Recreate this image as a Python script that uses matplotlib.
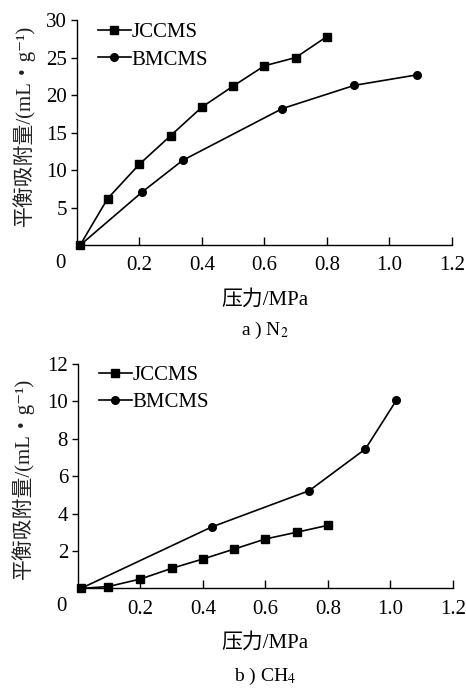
import numpy as np
import matplotlib
matplotlib.use('Agg')
import matplotlib.pyplot as plt

plt.rcParams['font.family'] = ['Liberation Serif', 'Noto Sans CJK SC', 'DejaVu Sans']
plt.rcParams['mathtext.fontset'] = 'stix'

# N2 adsorption
n2_jc_p = [0.01, 0.098, 0.2, 0.3, 0.4, 0.5, 0.6, 0.7, 0.8]
n2_jc_q = [0.0, 6.2, 10.8, 14.6, 18.4, 21.2, 23.9, 25.0, 27.8]
n2_bm_p = [0.01, 0.209, 0.338, 0.657, 0.888, 1.089]
n2_bm_q = [0.0, 7.1, 11.3, 18.2, 21.3, 22.7]

# CH4 adsorption
ch4_jc_p = [0.01, 0.098, 0.2, 0.3, 0.4, 0.5, 0.6, 0.7, 0.8]
ch4_jc_q = [0.0, 0.1, 0.5, 1.07, 1.57, 2.1, 2.64, 3.0, 3.37]
ch4_bm_p = [0.01, 0.428, 0.74, 0.92, 1.019]
ch4_bm_q = [0.0, 3.28, 5.22, 7.45, 10.05]

x_ticks = [0.2, 0.4, 0.6, 0.8, 1.0, 1.2]
x_ticklabels = ['0.2', '0.4', '0.6', '0.8', '1.0', '1.2']
n2_yticks = [5, 10, 15, 20, 25, 30]
ch4_yticks = [2, 4, 6, 8, 10, 12]

ylabel = '平衡吸附量/(mL・g⁻¹)'
fs = 15

fig = plt.figure(figsize=(4.66, 6.89), dpi=100)


def panel(rect, jc_p, jc_q, bm_p, bm_q, ymax, yticks, caption, ylab_xy, xlab_y, cap_y, leg_y):
    ax = fig.add_axes(rect)
    ax.plot(jc_p, jc_q, '-s', color='black', lw=1.2, ms=6, clip_on=False, label='JCCMS')
    ax.plot(bm_p, bm_q, '-o', color='black', lw=1.2, ms=5.5, clip_on=False, label='BMCMS')
    ax.set_xlim(0, 1.2)
    ax.set_ylim(0, ymax)
    ax.set_xticks(x_ticks)
    ax.set_xticklabels(x_ticklabels)
    ax.set_yticks(yticks)
    ax.spines['top'].set_visible(False)
    ax.spines['right'].set_visible(False)
    ax.spines['left'].set_linewidth(1.0)
    ax.spines['bottom'].set_linewidth(1.0)
    ax.tick_params(axis='x', direction='in', length=6, width=1.0, labelsize=fs, pad=8)
    ax.tick_params(axis='y', direction='out', length=4, width=1.0, labelsize=fs, pad=3)
    ax.annotate('0', xy=(0, 0), xycoords='data', xytext=(-16, -18),
                textcoords='offset pixels', ha='center', va='center', fontsize=fs)
    ax.set_ylabel(ylabel, fontsize=fs, color='#222222', va='center')
    ax.yaxis.set_label_coords(*ylab_xy)
    ax.set_xlabel('压力/MPa', fontsize=fs)
    ax.xaxis.set_label_coords(0.5, xlab_y)
    ax.xaxis.label.set_va('center')
    ax.text(0.5, cap_y, caption, transform=ax.transAxes, ha='center', va='center', fontsize=14)
    ax.legend(loc='upper left', bbox_to_anchor=(0.035, leg_y), frameon=False, fontsize=fs,
              handlelength=1.55, handletextpad=0.05, labelspacing=0.38, borderaxespad=0)
    return ax


panel([0.165, 0.644, 0.805, 0.327], n2_jc_p, n2_jc_q, n2_bm_p, n2_bm_q, 30, n2_yticks,
      'a ) N$_2$', (-0.141, 0.533), -0.244, -0.378, 1.025)
panel([0.167, 0.146, 0.805, 0.326], ch4_jc_p, ch4_jc_q, ch4_bm_p, ch4_bm_q, 12, ch4_yticks,
      'b ) CH$_4$', (-0.147, 0.491), -0.241, -0.392, 1.03)

fig.savefig('out.png', dpi=100)
